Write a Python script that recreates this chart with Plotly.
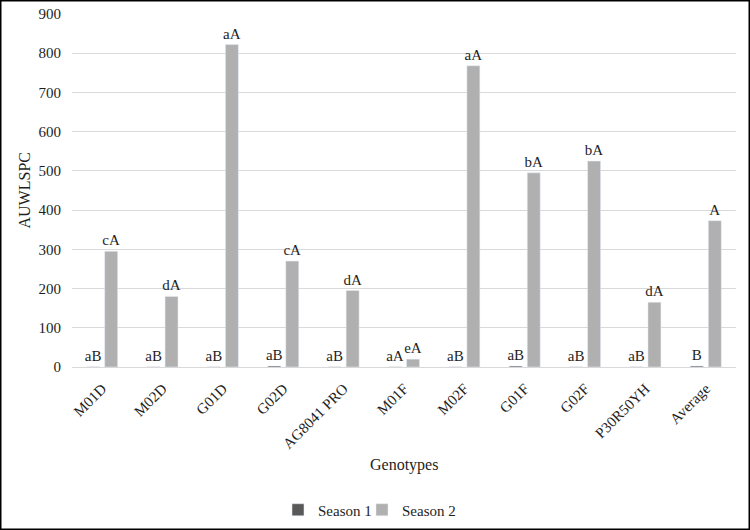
import plotly.graph_objects as go

genotypes = ["M01D", "M02D", "G01D", "G02D", "AG8041 PRO", "M01F", "M02F", "G01F", "G02F", "P30R50YH", "Average"]
season1 = [0.3, 0.3, 0.3, 2.5, 0.3, 0.3, 0.3, 2.5, 0.3, 0.3, 2.5]
season2 = [295, 180, 822, 270, 195, 20, 768, 495, 525, 165, 373]
labels1 = ["aB", "aB", "aB", "aB", "aB", "aA", "aB", "aB", "aB", "aB", "B"]
labels2 = ["cA", "dA", "aA", "cA", "dA", "eA", "aA", "bA", "bA", "dA", "A"]
y_ticks = [0, 100, 200, 300, 400, 500, 600, 700, 800, 900]

FONT = "Liberation Serif, Times New Roman, serif"
TXT = "#1e1e1e"

fig = go.Figure()
fig.add_trace(go.Bar(
    name="Season 1", x=genotypes, y=season1, marker_color="#595959",
    text=labels1, textposition="outside", cliponaxis=False, constraintext="none",
    textfont=dict(family=FONT, size=15, color=TXT), legend="legend",
))
fig.add_trace(go.Bar(
    name="Season 2", x=genotypes, y=season2, marker_color="#b0b0b0",
    text=labels2, textposition="outside", cliponaxis=False, constraintext="none",
    textfont=dict(family=FONT, size=15, color=TXT), legend="legend2",
))

L, R, T, B = 72, 14, 14, 163
W, H = 750, 530
pw, ph = W - L - R, H - T - B

legend_common = dict(orientation="h", xanchor="left", y=(H - B - 510) / ph, yanchor="middle",
                     bgcolor="rgba(0,0,0,0)", itemwidth=30,
                     font=dict(family=FONT, size=15, color=TXT))

fig.update_layout(
    width=W, height=H,
    margin=dict(l=L, r=R, t=T, b=B, autoexpand=False),
    paper_bgcolor="white", plot_bgcolor="white",
    font=dict(family=FONT, size=15, color=TXT),
    barmode="group", bargap=0.404, bargroupgap=0.28,
    showlegend=True,
    legend=dict(x=(278 - L) / pw, **legend_common),
    legend2=dict(x=(362 - L) / pw, **legend_common),
    xaxis=dict(
        tickangle=-45, showgrid=False, showline=True, linecolor="#d9d9d9", linewidth=1,
        ticks="", automargin=False, ticklabelstandoff=6,
        tickfont=dict(family=FONT, size=15, color=TXT),
    ),
    yaxis=dict(
        range=[0, 900], tickvals=y_ticks, showgrid=True, gridcolor="#d9d9d9", gridwidth=1,
        zeroline=False, showline=False, ticks="", automargin=False, ticklabelstandoff=10,
        tickfont=dict(family=FONT, size=15, color=TXT),
    ),
    annotations=[
        dict(text="AUWLSPC", xref="paper", yref="paper", x=(24 - L) / pw, y=0.5,
             textangle=-90, showarrow=False, xanchor="center", yanchor="middle",
             font=dict(family=FONT, size=16, color=TXT)),
        dict(text="Genotypes", xref="paper", yref="paper", x=0.5, y=(H - B - 465) / ph,
             showarrow=False, xanchor="center", yanchor="middle",
             font=dict(family=FONT, size=16, color=TXT)),
    ],
    shapes=[dict(
        type="rect", xref="paper", yref="paper",
        x0=(-L + 0.75) / pw, x1=1 + (R - 0.75) / pw,
        y0=(-B + 0.75) / ph, y1=1 + (T - 0.75) / ph,
        line=dict(color="black", width=1.5), fillcolor="rgba(0,0,0,0)",
    )],
)

fig.write_html("out.html", config={"displayModeBar": False},
               post_script="document.body.style.margin='0';document.body.style.padding='0';")
